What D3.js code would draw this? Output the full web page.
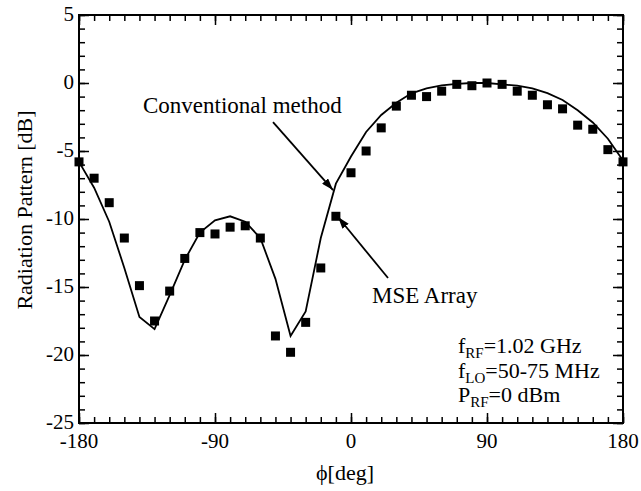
<!DOCTYPE html>
<html>
<head>
<meta charset="utf-8">
<script src="https://cdn.jsdelivr.net/npm/d3@7"></script>
<style>
  body { margin: 0; background: #fff; }
  text { font-family: "Liberation Serif", "Times New Roman", serif; fill: #000; }
</style>
</head>
<body>
<div id="chart"></div>
<script>
// Data
const angles = [-180, -170, -160, -150, -140, -130, -120, -110, -100, -90, -80, -70, -60, -50, -40, -30, -20, -10,
  0, 10, 20, 30, 40, 50, 60, 70, 80, 90, 100, 110, 120, 130, 140, 150, 160, 170, 180];
const mseArray = [-5.8, -7.0, -8.8, -11.4, -14.9, -17.5, -15.3, -12.9, -11.0, -11.1, -10.6, -10.5, -11.4, -18.6, -19.8, -17.6, -13.6, -9.8,
  -6.6, -5.0, -3.3, -1.7, -0.9, -1.0, -0.6, -0.1, -0.2, 0.0, -0.1, -0.6, -0.9, -1.6, -1.9, -3.1, -3.4, -4.9, -5.8];
const conventional = [-5.8, -7.7, -10.2, -13.6, -17.2, -18.1, -15.6, -13.0, -11.0, -10.1, -9.8, -10.2, -11.4, -14.4, -18.6, -16.8, -11.4, -7.4,
  -5.4, -3.6, -2.35, -1.45, -0.76, -0.4, -0.17, -0.07, 0.0, 0.0, -0.1, -0.2, -0.39, -0.75, -1.25, -2.0, -2.9, -4.1, -5.7];
const xTicks = [-180, -90, 0, 90, 180];
const yTicks = [-25, -20, -15, -10, -5, 0, 5];

// Set dimensions and margins
const width = 641;
const height = 491;
const margin = { top: 15, right: 18, bottom: 68, left: 79 };
const innerW = width - margin.left - margin.right;
const innerH = height - margin.top - margin.bottom;

const svg = d3.select("#chart").append("svg")
    .attr("width", width)
    .attr("height", height);

const g = svg.append("g")
    .attr("transform", `translate(${margin.left},${margin.top})`);

const x = d3.scaleLinear().domain([-180, 180]).range([0, innerW]);
const y = d3.scaleLinear().domain([-25, 5]).range([innerH, 0]);

// Minor ticks (inward on all sides)
const xMinor = d3.range(-180, 181, 10);
const yMinor = d3.range(-25, 6, 1);

function tickAxis(axisFn, scale, values, size) {
  return axisFn(scale).tickValues(values).tickSize(size).tickFormat("");
}

// bottom
g.append("g").attr("transform", `translate(0,${innerH})`)
  .call(tickAxis(d3.axisTop, x, xMinor, 6));
g.append("g").attr("transform", `translate(0,${innerH})`)
  .call(d3.axisTop(x).tickValues(xTicks).tickSize(10).tickFormat(""));
// top
g.append("g").call(tickAxis(d3.axisBottom, x, xMinor, 6));
g.append("g").call(d3.axisBottom(x).tickValues(xTicks).tickSize(10).tickFormat(""));
// left
g.append("g").call(tickAxis(d3.axisRight, y, yMinor, 6));
g.append("g").call(d3.axisRight(y).tickValues(yTicks).tickSize(10).tickFormat(""));
// right
g.append("g").attr("transform", `translate(${innerW},0)`)
  .call(tickAxis(d3.axisLeft, y, yMinor, 6));
g.append("g").attr("transform", `translate(${innerW},0)`)
  .call(d3.axisLeft(y).tickValues(yTicks).tickSize(10).tickFormat(""));

g.selectAll(".domain").remove();
g.selectAll(".tick line").attr("stroke", "#000").attr("stroke-width", 1.5);

// Frame
g.append("rect")
  .attr("width", innerW).attr("height", innerH)
  .attr("fill", "none").attr("stroke", "#000").attr("stroke-width", 2);

// Tick labels
g.selectAll(".xlab").data(xTicks).enter().append("text")
  .attr("x", d => x(d)).attr("y", innerH + 25)
  .attr("text-anchor", "middle").attr("font-size", 21)
  .text(d => d);

g.selectAll(".ylab").data(yTicks).enter().append("text")
  .attr("x", -5).attr("y", d => y(d) + 6)
  .attr("text-anchor", "end").attr("font-size", 21)
  .text(d => d);

// Axis titles
svg.append("text")
  .attr("x", 345).attr("y", 480)
  .attr("text-anchor", "middle").attr("font-size", 22)
  .text("ϕ[deg]");

svg.append("text")
  .attr("transform", "translate(32,210) rotate(-90)")
  .attr("text-anchor", "middle").attr("font-size", 22)
  .text("Radiation Pattern [dB]");

// Conventional method line
const line = d3.line().x(d => x(d[0])).y(d => y(d[1]));
g.append("path")
  .datum(angles.map((a, i) => [a, conventional[i]]))
  .attr("d", line)
  .attr("fill", "none").attr("stroke", "#000").attr("stroke-width", 1.8);

// MSE array markers
const s = 9;
g.selectAll(".pt").data(angles.map((a, i) => [a, mseArray[i]])).enter().append("rect")
  .attr("x", d => x(d[0]) - s / 2).attr("y", d => y(d[1]) - s / 2)
  .attr("width", s).attr("height", s).attr("fill", "#000");

// Annotation arrows
svg.append("defs").append("marker")
  .attr("id", "arr").attr("viewBox", "0 0 12 8")
  .attr("refX", 12).attr("refY", 4)
  .attr("markerWidth", 12).attr("markerHeight", 8)
  .attr("markerUnits", "userSpaceOnUse").attr("orient", "auto")
  .append("path").attr("d", "M0,0 L12,4 L0,8 Z").attr("fill", "#000");

const arrows = [
  [[-51.6, -2.87], [-11.9, -7.87]],
  [[24.5, -14.34], [-8.6, -9.85]]
];
g.selectAll(".arrow").data(arrows).enter().append("line")
  .attr("x1", d => x(d[0][0])).attr("y1", d => y(d[0][1]))
  .attr("x2", d => x(d[1][0])).attr("y2", d => y(d[1][1]))
  .attr("stroke", "#000").attr("stroke-width", 1.8)
  .attr("marker-end", "url(#arr)");

svg.append("text").attr("x", 143).attr("y", 113).attr("font-size", 23).text("Conventional method");
svg.append("text").attr("x", 372).attr("y", 303).attr("font-size", 23).text("MSE Array");

// Conditions note
const notes = [
  ["f", "RF", "=1.02 GHz"],
  ["f", "LO", "=50-75 MHz"],
  ["P", "RF", "=0 dBm"]
];
notes.forEach((n, i) => {
  const t = svg.append("text").attr("x", 458).attr("y", 353 + i * 24.5).attr("font-size", 22);
  t.append("tspan").text(n[0]);
  t.append("tspan").attr("font-size", 15).attr("dy", 5).text(n[1]);
  t.append("tspan").attr("dy", -5).text(n[2]);
});
</script>
</body>
</html>
